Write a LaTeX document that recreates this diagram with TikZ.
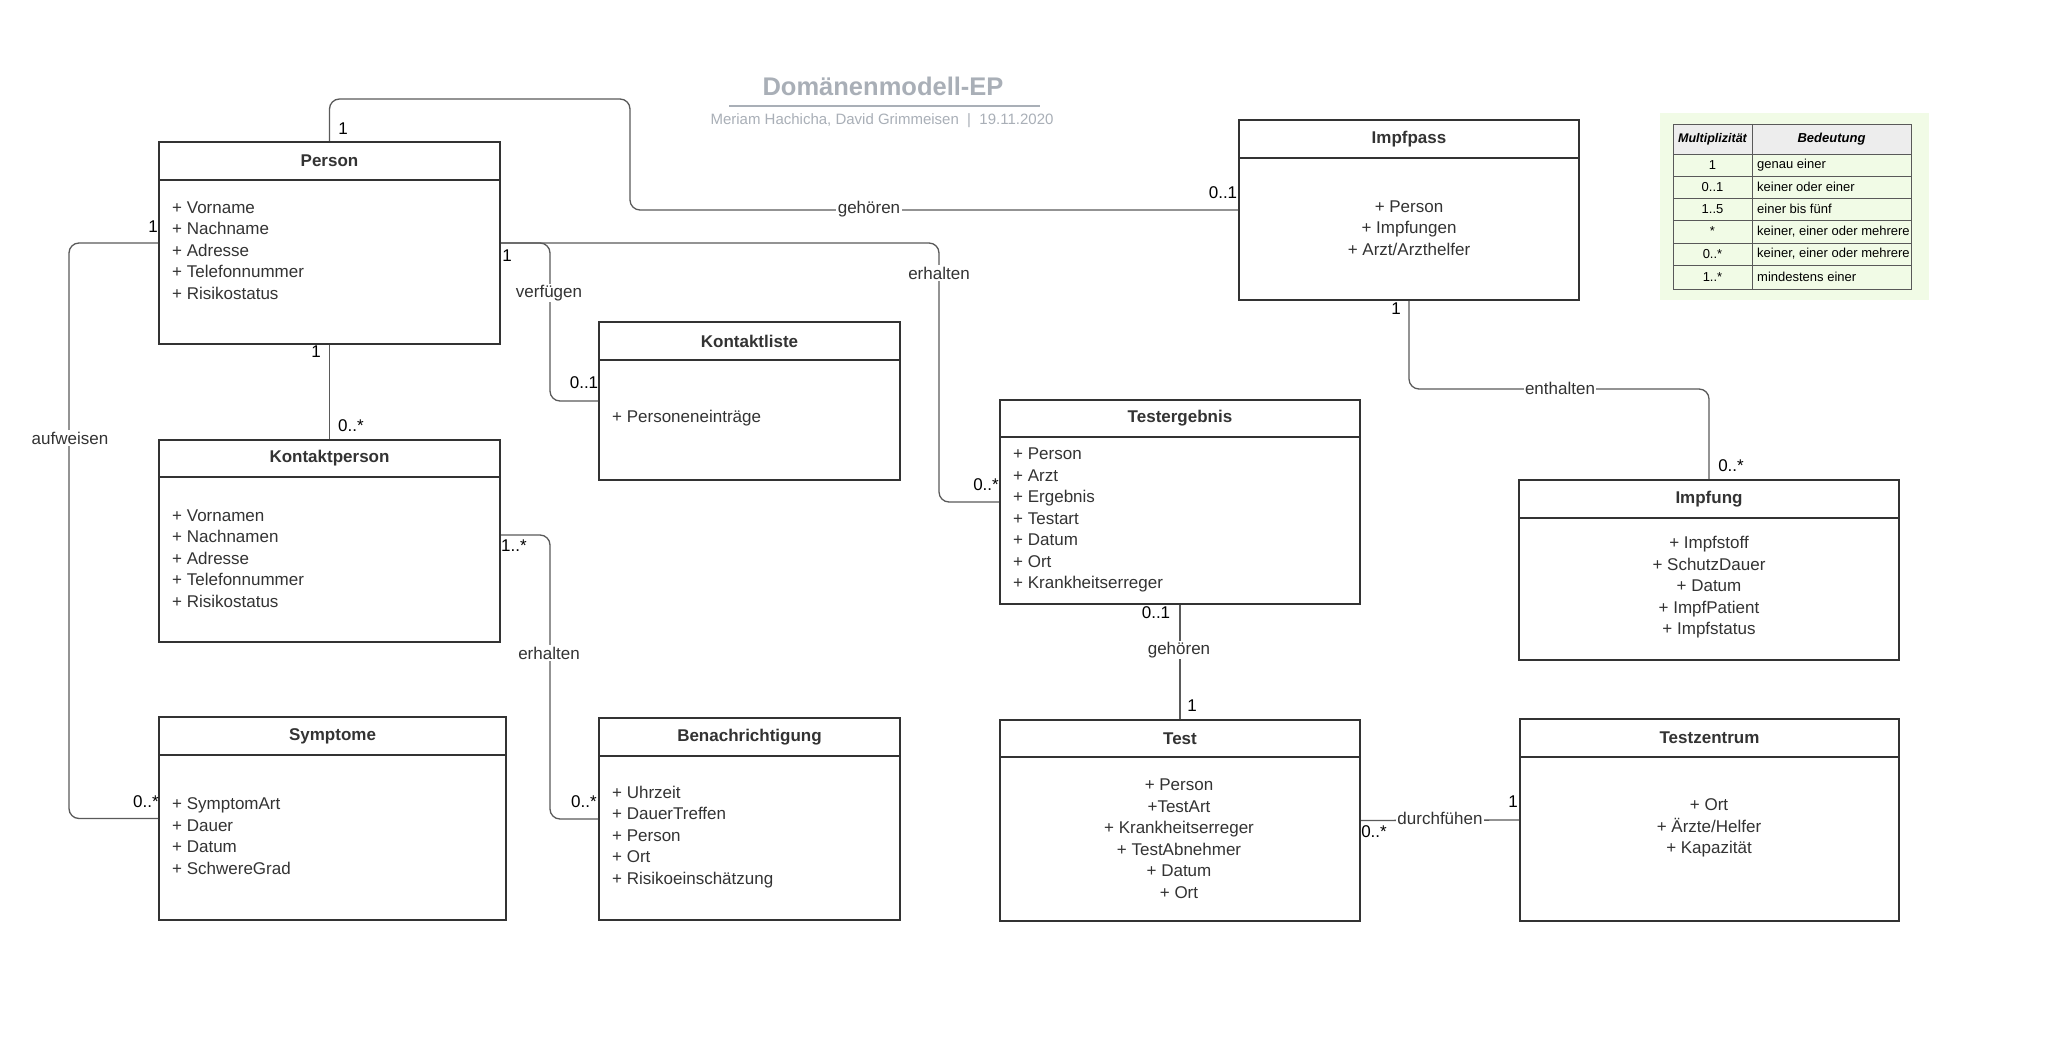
\documentclass[tikz,border=0pt]{standalone}
\usepackage{fontspec}
\setmainfont{Liberation Sans}
\usetikzlibrary{fit}
\definecolor{boxc}{HTML}{333333}
\definecolor{connc}{HTML}{5A5A5A}
\definecolor{titc}{HTML}{A9AFB7}
\definecolor{legbg}{HTML}{F1FBE6}
\definecolor{leghd}{HTML}{EDEDED}
\newcommand\umlcls[7]{%
  \node[cls, fit={(#2,#3)(#4,#5)}] (#1) {};
  \draw[sep] (#2,#6) -- (#4,#6);
  \node[hdr] (#1-t) at ({(#2+#4)/2},{(#3+#6)/2}) {#7};
}
\begin{document}
\begin{tikzpicture}[x=1pt,y=-1pt,
  cls/.style={draw=boxc, line width=2pt, inner sep=0pt, rectangle},
  sep/.style={draw=boxc, line width=2pt},
  hdr/.style={font=\fontsize{17}{20}\selectfont\bfseries, text=boxc, inner sep=0pt},
  attr/.style={font=\fontsize{17}{21.5}\selectfont, text=boxc, align=left, anchor=west, inner sep=0pt, yshift=-1.5pt},
  attrc/.style={font=\fontsize{17}{21.5}\selectfont, text=boxc, align=center, inner sep=0pt, yshift=-1.5pt},
  conn/.style={draw=connc, line width=1.3pt, rounded corners=10pt},
  lbl/.style={font=\fontsize{17}{20}\selectfont, text=boxc, fill=white, inner sep=1.5pt},
  mult/.style={font=\fontsize{17}{20}\selectfont, text=black, inner sep=0pt},
  leg/.style={font=\fontsize{13}{15}\selectfont, text=black, inner sep=0pt},
  leggrid/.style={draw=black!65, line width=0.8pt}
]
\useasboundingbox[fill=white] (0,0) rectangle (2045,1056);

% title
\node[font=\fontsize{25.5}{30}\selectfont\bfseries, text=titc] (title) at (883,86) {Domänenmodell-EP};
\node[font=\fontsize{15}{17}\selectfont, text=titc] (subtitle) at (882,121) {Meriam Hachicha, David Grimmeisen \ | \ 19.11.2020};
\draw[titc, line width=2pt] (729,106.5) -- (1040,106.5);

% legend
\fill[legbg] (1660,113) rectangle (1929,300);
\fill[leghd] (1673,124) rectangle (1911,154);
\draw[leggrid] (1673,124) rectangle (1911,289);
\draw[leggrid] (1752,124) -- (1752,289);
\foreach \yy in {154,176,198,220,243,265} {\draw[leggrid] (1673,\yy) -- (1911,\yy);}
\node[leg, font=\fontsize{12.5}{14}\selectfont\bfseries\itshape] (lh1) at (1712.5,139.5) {Multiplizität};
\node[leg, font=\fontsize{13}{15}\selectfont\bfseries\itshape] (lh2) at (1831.5,139.5) {Bedeutung};
\foreach \yy/\m/\b in {165/1/genau einer, 187/0..1/keiner oder einer, 209/1..5/einer bis fünf, 231.5/*/{keiner, einer oder mehrere}, 254/0..*/{keiner, einer oder mehrere}, 277/1..*/mindestens einer} {
  \node[leg] at (1712.5,\yy) {\m};
  \node[leg, anchor=west] at (1757,\yy) {\b};
}

% classes
\umlcls{person}{159}{142}{500}{344}{180}{Person}
\umlcls{kp}{159}{440}{500}{642}{477}{Kontaktperson}
\umlcls{symptome}{159}{717}{506}{920}{755}{Symptome}
\umlcls{kontaktliste}{599}{322}{900}{480}{360}{Kontaktliste}
\umlcls{benach}{599}{718}{900}{920}{756}{Benachrichtigung}
\umlcls{testergebnis}{1000}{400}{1360}{604}{437}{Testergebnis}
\umlcls{test}{1000}{720}{1360}{921}{757}{Test}
\umlcls{testzentrum}{1520}{719}{1899}{921}{757}{Testzentrum}
\umlcls{impfpass}{1239}{120}{1579}{300}{158}{Impfpass}
\umlcls{impfung}{1519}{480}{1899}{660}{518}{Impfung}

% attributes
\node[attr] (person-a) at (172,249) {+ Vorname\\+ Nachname\\+ Adresse\\+ Telefonnummer\\+ Risikostatus};
\node[attr] (kp-a) at (172,557) {+ Vornamen\\+ Nachnamen\\+ Adresse\\+ Telefonnummer\\+ Risikostatus};
\node[attr] (symptome-a) at (172,834.5) {+ SymptomArt\\+ Dauer\\+ Datum\\+ SchwereGrad};
\node[attr] (kontaktliste-a) at (612,417) {+ Personeneinträge};
\node[attr] (benach-a) at (612,835.5) {+ Uhrzeit\\+ DauerTreffen\\+ Person\\+ Ort\\+ Risikoeinschätzung};
\node[attr] (testergebnis-a) at (1013,518.5) {+ Person\\+ Arzt\\+ Ergebnis\\+ Testart\\+ Datum\\+ Ort\\+ Krankheitserreger};
\node[attrc] (test-a) at (1179,837) {+ Person\\+TestArt\\+ Krankheitserreger\\+ TestAbnehmer\\+ Datum\\+ Ort};
\node[attrc] (testzentrum-a) at (1709,826.5) {+ Ort\\+ Ärzte/Helfer\\+ Kapazität};
\node[attrc] (impfpass-a) at (1409,226.5) {+ Person\\+ Impfungen\\+ Arzt/Arzthelfer};
\node[attrc] (impfung-a) at (1709,586) {+ Impfstoff\\+ SchutzDauer\\+ Datum\\+ ImpfPatient\\+ Impfstatus};

% connectors
\draw[conn] (person.north) |- (630,99) -- (630,209 |- impfpass.west) -- (impfpass.west);
\draw[conn] (person.west) -- ++(-89,0) |- (symptome.west);
\draw[conn] (person.east) -- ++(49,0) |- (kontaktliste.west);
\draw[conn] (person.east) -- ++(438,0) |- (testergebnis.west);
\draw[conn] (person.south) -- (kp.north);
\draw[conn] ([yshift=6pt]kp.east) -- ++(49,0) |- (benach.west);
\draw[conn] (testergebnis.south) -- (test.north);
\draw[conn] (test.east) -- (testzentrum.west);
\draw[conn] (impfpass.south) |- (1560,389) -| (impfung.north);

% association labels
\node[lbl] (l1) at (869,209) {gehören};
\node[lbl] (l2) at (70,438) {aufweisen};
\node[lbl] (l3) at (549,293) {verfügen};
\node[lbl] (l4) at (939,273) {erhalten};
\node[lbl] (l5) at (549,653) {erhalten};
\node[lbl] (l6) at (1179,650) {gehören};
\node[lbl] (l7) at (1440,818) {durchfühen};
\node[lbl] (l8) at (1560,388) {enthalten};

% multiplicities
\node[mult] (m1) at (343,129) {1};
\node[mult] (m2) at (1223,193) {0..1};
\node[mult] (m3) at (153,227) {1};
\node[mult] (m4) at (146,802) {0..*};
\node[mult] (m5) at (507,256) {1};
\node[mult] (m6) at (584,383) {0..1};
\node[mult] (m7) at (986,485) {0..*};
\node[mult] (m8) at (316,352) {1};
\node[mult] (m9) at (351,426) {0..*};
\node[mult] (m10) at (514,546) {1..*};
\node[mult] (m11) at (584,802) {0..*};
\node[mult] (m12) at (1156,613) {0..1};
\node[mult] (m13) at (1192,706) {1};
\node[mult] (m14) at (1374,832) {0..*};
\node[mult] (m15) at (1513,802) {1};
\node[mult] (m16) at (1396,309) {1};
\node[mult] (m17) at (1731,466) {0..*};
\end{tikzpicture}
\end{document}
